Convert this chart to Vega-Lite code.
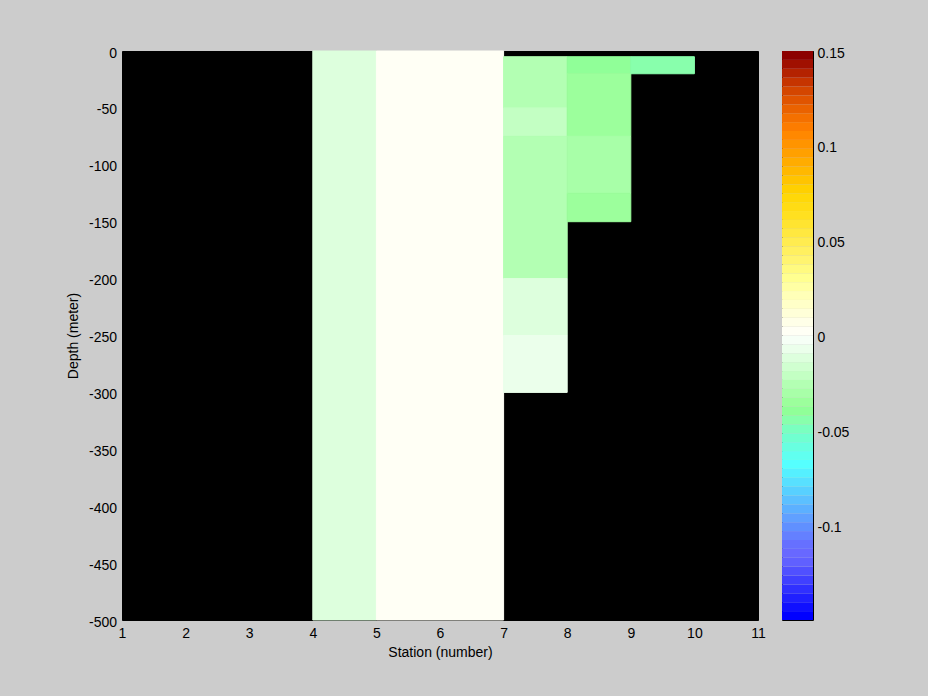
{
  "$schema": "https://vega.github.io/schema/vega-lite/v6.json",
  "background": "#cccccc",
  "padding": {"left": 65, "top": 45, "right": 89, "bottom": 38},
  "config": {
    "font": "Liberation Sans",
    "axis": {"labelFont": "Liberation Sans", "titleFont": "Liberation Sans", "labelFontSize": 14, "titleFontSize": 14, "titleFontWeight": "normal", "labelColor": "black", "titleColor": "black", "grid": false},
    "concat": {"spacing": 15}
  },
  "datasets": {
    "cells": [
      {"s0": 4, "s1": 5, "d0": 0, "d1": -500, "v": -0.012},
      {"s0": 5, "s1": 6, "d0": 0, "d1": -500, "v": 0.002},
      {"s0": 6, "s1": 7, "d0": 0, "d1": -500, "v": 0.002},
      {"s0": 7, "s1": 8, "d0": -5, "d1": -50, "v": -0.026},
      {"s0": 7, "s1": 8, "d0": -50, "d1": -75, "v": -0.021},
      {"s0": 7, "s1": 8, "d0": -75, "d1": -200, "v": -0.026},
      {"s0": 7, "s1": 8, "d0": -200, "d1": -250, "v": -0.012},
      {"s0": 7, "s1": 8, "d0": -250, "d1": -300, "v": -0.007},
      {"s0": 8, "s1": 9, "d0": -5, "d1": -20, "v": -0.040},
      {"s0": 8, "s1": 9, "d0": -20, "d1": -75, "v": -0.035},
      {"s0": 8, "s1": 9, "d0": -75, "d1": -125, "v": -0.030},
      {"s0": 8, "s1": 9, "d0": -125, "d1": -150, "v": -0.035},
      {"s0": 9, "s1": 10, "d0": -5, "d1": -20, "v": -0.045}
    ],
    "cbar": [
      {"lo": -0.15, "hi": -0.1453125},
      {"lo": -0.1453125, "hi": -0.140625},
      {"lo": -0.140625, "hi": -0.1359375},
      {"lo": -0.1359375, "hi": -0.13125},
      {"lo": -0.13125, "hi": -0.1265625},
      {"lo": -0.1265625, "hi": -0.121875},
      {"lo": -0.121875, "hi": -0.1171875},
      {"lo": -0.1171875, "hi": -0.1125},
      {"lo": -0.1125, "hi": -0.1078125},
      {"lo": -0.1078125, "hi": -0.103125},
      {"lo": -0.103125, "hi": -0.0984375},
      {"lo": -0.0984375, "hi": -0.09375},
      {"lo": -0.09375, "hi": -0.0890625},
      {"lo": -0.0890625, "hi": -0.084375},
      {"lo": -0.084375, "hi": -0.0796875},
      {"lo": -0.0796875, "hi": -0.075},
      {"lo": -0.075, "hi": -0.0703125},
      {"lo": -0.0703125, "hi": -0.065625},
      {"lo": -0.065625, "hi": -0.0609375},
      {"lo": -0.0609375, "hi": -0.05625},
      {"lo": -0.05625, "hi": -0.0515625},
      {"lo": -0.0515625, "hi": -0.046875},
      {"lo": -0.046875, "hi": -0.0421875},
      {"lo": -0.0421875, "hi": -0.0375},
      {"lo": -0.0375, "hi": -0.0328125},
      {"lo": -0.0328125, "hi": -0.028125},
      {"lo": -0.028125, "hi": -0.0234375},
      {"lo": -0.0234375, "hi": -0.01875},
      {"lo": -0.01875, "hi": -0.0140625},
      {"lo": -0.0140625, "hi": -0.009375},
      {"lo": -0.009375, "hi": -0.0046875},
      {"lo": -0.0046875, "hi": 0},
      {"lo": 0, "hi": 0.0046875},
      {"lo": 0.0046875, "hi": 0.009375},
      {"lo": 0.009375, "hi": 0.0140625},
      {"lo": 0.0140625, "hi": 0.01875},
      {"lo": 0.01875, "hi": 0.0234375},
      {"lo": 0.0234375, "hi": 0.028125},
      {"lo": 0.028125, "hi": 0.0328125},
      {"lo": 0.0328125, "hi": 0.0375},
      {"lo": 0.0375, "hi": 0.0421875},
      {"lo": 0.0421875, "hi": 0.046875},
      {"lo": 0.046875, "hi": 0.0515625},
      {"lo": 0.0515625, "hi": 0.05625},
      {"lo": 0.05625, "hi": 0.0609375},
      {"lo": 0.0609375, "hi": 0.065625},
      {"lo": 0.065625, "hi": 0.0703125},
      {"lo": 0.0703125, "hi": 0.075},
      {"lo": 0.075, "hi": 0.0796875},
      {"lo": 0.0796875, "hi": 0.084375},
      {"lo": 0.084375, "hi": 0.0890625},
      {"lo": 0.0890625, "hi": 0.09375},
      {"lo": 0.09375, "hi": 0.0984375},
      {"lo": 0.0984375, "hi": 0.103125},
      {"lo": 0.103125, "hi": 0.1078125},
      {"lo": 0.1078125, "hi": 0.1125},
      {"lo": 0.1125, "hi": 0.1171875},
      {"lo": 0.1171875, "hi": 0.121875},
      {"lo": 0.121875, "hi": 0.1265625},
      {"lo": 0.1265625, "hi": 0.13125},
      {"lo": 0.13125, "hi": 0.1359375},
      {"lo": 0.1359375, "hi": 0.140625},
      {"lo": 0.140625, "hi": 0.1453125},
      {"lo": 0.1453125, "hi": 0.15}
    ]
  },
  "hconcat": [
    {
      "width": 636,
      "height": 569,
      "view": {"fill": "black", "stroke": "black"},
      "data": {"name": "cells"},
      "mark": {"type": "rect", "strokeWidth": 1},
      "encoding": {
        "x": {"field": "s0", "type": "quantitative",
          "scale": {"domain": [1, 11], "nice": false, "zero": false},
          "axis": {"values": [1, 2, 3, 4, 5, 6, 7, 8, 9, 10, 11], "ticks": false, "tickSize": 0, "domain": false, "labelPadding": 17.5, "labelBaseline": "alphabetic", "labelFlush": false, "labelOverlap": false, "labelExpr": "'' + datum.value", "title": "Station (number)", "titleBaseline": "alphabetic", "titleY": 36}},
        "x2": {"field": "s1"},
        "y": {"field": "d1", "type": "quantitative",
          "scale": {"domain": [-500, 0], "nice": false, "zero": false},
          "axis": {"values": [0, -50, -100, -150, -200, -250, -300, -350, -400, -450, -500], "ticks": false, "tickSize": 0, "domain": false, "labelPadding": 5.5, "labelBaseline": "alphabetic", "labelOffset": 6, "labelOverlap": false, "labelExpr": "'' + datum.value", "title": "Depth (meter)", "titleBaseline": "alphabetic", "titleX": -45}},
        "y2": {"field": "d0"},
        "color": {"field": "v", "type": "quantitative",
          "scale": {"type": "threshold",
            "domain": [-0.1453125, -0.140625, -0.1359375, -0.13125, -0.1265625, -0.121875, -0.1171875, -0.1125, -0.1078125, -0.103125, -0.0984375, -0.09375, -0.0890625, -0.084375, -0.0796875, -0.075, -0.0703125, -0.065625, -0.0609375, -0.05625, -0.0515625, -0.046875, -0.0421875, -0.0375, -0.0328125, -0.028125, -0.0234375, -0.01875, -0.0140625, -0.009375, -0.0046875, 0, 0.0046875, 0.009375, 0.0140625, 0.01875, 0.0234375, 0.028125, 0.0328125, 0.0375, 0.0421875, 0.046875, 0.0515625, 0.05625, 0.0609375, 0.065625, 0.0703125, 0.075, 0.0796875, 0.084375, 0.0890625, 0.09375, 0.0984375, 0.103125, 0.1078125, 0.1125, 0.1171875, 0.121875, 0.1265625, 0.13125, 0.1359375, 0.140625, 0.1453125],
            "range": ["#0000ff", "#1010ff", "#2020ff", "#3030ff", "#4040ff", "#5050ff", "#6060ff", "#6868ff", "#6670ff", "#6480ff", "#6090ff", "#60a0ff", "#5cb0ff", "#5cc0ff", "#58d0ff", "#58e0ff", "#55f0ff", "#55ffff", "#60fff0", "#68ffe0", "#70ffd0", "#7affc0", "#88ffac", "#90ff98", "#9cff9c", "#a8ffa8", "#b3ffb3", "#c3ffc3", "#d0ffd0", "#ddffdd", "#ebffeb", "#f6fff6", "#fffff5", "#ffffe8", "#ffffd8", "#ffffc8", "#ffffb8", "#ffffa4", "#ffff90", "#fffa80", "#fff470", "#fff060", "#ffec50", "#ffe840", "#ffe430", "#ffe020", "#ffdc14", "#ffd808", "#ffd000", "#ffc400", "#ffb800", "#ffac00", "#ffa000", "#ff9400", "#ff8800", "#fc7c00", "#f47000", "#ea6200", "#e05400", "#d44600", "#c63400", "#b42200", "#a01000", "#8c0000"]},
          "legend": null},
        "stroke": {"field": "v", "type": "quantitative",
          "scale": {"type": "threshold",
            "domain": [-0.1453125, -0.140625, -0.1359375, -0.13125, -0.1265625, -0.121875, -0.1171875, -0.1125, -0.1078125, -0.103125, -0.0984375, -0.09375, -0.0890625, -0.084375, -0.0796875, -0.075, -0.0703125, -0.065625, -0.0609375, -0.05625, -0.0515625, -0.046875, -0.0421875, -0.0375, -0.0328125, -0.028125, -0.0234375, -0.01875, -0.0140625, -0.009375, -0.0046875, 0, 0.0046875, 0.009375, 0.0140625, 0.01875, 0.0234375, 0.028125, 0.0328125, 0.0375, 0.0421875, 0.046875, 0.0515625, 0.05625, 0.0609375, 0.065625, 0.0703125, 0.075, 0.0796875, 0.084375, 0.0890625, 0.09375, 0.0984375, 0.103125, 0.1078125, 0.1125, 0.1171875, 0.121875, 0.1265625, 0.13125, 0.1359375, 0.140625, 0.1453125],
            "range": ["#0000ff", "#1010ff", "#2020ff", "#3030ff", "#4040ff", "#5050ff", "#6060ff", "#6868ff", "#6670ff", "#6480ff", "#6090ff", "#60a0ff", "#5cb0ff", "#5cc0ff", "#58d0ff", "#58e0ff", "#55f0ff", "#55ffff", "#60fff0", "#68ffe0", "#70ffd0", "#7affc0", "#88ffac", "#90ff98", "#9cff9c", "#a8ffa8", "#b3ffb3", "#c3ffc3", "#d0ffd0", "#ddffdd", "#ebffeb", "#f6fff6", "#fffff5", "#ffffe8", "#ffffd8", "#ffffc8", "#ffffb8", "#ffffa4", "#ffff90", "#fffa80", "#fff470", "#fff060", "#ffec50", "#ffe840", "#ffe430", "#ffe020", "#ffdc14", "#ffd808", "#ffd000", "#ffc400", "#ffb800", "#ffac00", "#ffa000", "#ff9400", "#ff8800", "#fc7c00", "#f47000", "#ea6200", "#e05400", "#d44600", "#c63400", "#b42200", "#a01000", "#8c0000"]},
          "legend": null}
      }
    },
    {
      "width": 31,
      "height": 569,
      "view": {"stroke": "black", "strokeWidth": 1},
      "data": {"name": "cbar"},
      "layer": [
        {
          "mark": {"type": "rect"},
          "encoding": {
            "x": {"datum": 0, "type": "quantitative", "scale": {"domain": [0, 1], "nice": false, "zero": false}, "axis": null},
            "x2": {"datum": 1},
            "y": {"field": "lo", "type": "quantitative",
              "scale": {"domain": [-0.15, 0.15], "nice": false, "zero": false},
              "axis": {"orient": "right", "values": [0.15, 0.1, 0.05, 0, -0.05, -0.1], "tickSize": -5, "tickColor": "black", "domain": false, "labelPadding": 9, "labelBaseline": "alphabetic", "labelOffset": 6, "labelOverlap": false, "labelExpr": "'' + datum.value", "title": null}},
            "y2": {"field": "hi"},
            "color": {"field": "lo", "type": "quantitative",
              "scale": {"type": "threshold",
                "domain": [-0.1453125, -0.140625, -0.1359375, -0.13125, -0.1265625, -0.121875, -0.1171875, -0.1125, -0.1078125, -0.103125, -0.0984375, -0.09375, -0.0890625, -0.084375, -0.0796875, -0.075, -0.0703125, -0.065625, -0.0609375, -0.05625, -0.0515625, -0.046875, -0.0421875, -0.0375, -0.0328125, -0.028125, -0.0234375, -0.01875, -0.0140625, -0.009375, -0.0046875, 0, 0.0046875, 0.009375, 0.0140625, 0.01875, 0.0234375, 0.028125, 0.0328125, 0.0375, 0.0421875, 0.046875, 0.0515625, 0.05625, 0.0609375, 0.065625, 0.0703125, 0.075, 0.0796875, 0.084375, 0.0890625, 0.09375, 0.0984375, 0.103125, 0.1078125, 0.1125, 0.1171875, 0.121875, 0.1265625, 0.13125, 0.1359375, 0.140625, 0.1453125],
                "range": ["#0000ff", "#1010ff", "#2020ff", "#3030ff", "#4040ff", "#5050ff", "#6060ff", "#6868ff", "#6670ff", "#6480ff", "#6090ff", "#60a0ff", "#5cb0ff", "#5cc0ff", "#58d0ff", "#58e0ff", "#55f0ff", "#55ffff", "#60fff0", "#68ffe0", "#70ffd0", "#7affc0", "#88ffac", "#90ff98", "#9cff9c", "#a8ffa8", "#b3ffb3", "#c3ffc3", "#d0ffd0", "#ddffdd", "#ebffeb", "#f6fff6", "#fffff5", "#ffffe8", "#ffffd8", "#ffffc8", "#ffffb8", "#ffffa4", "#ffff90", "#fffa80", "#fff470", "#fff060", "#ffec50", "#ffe840", "#ffe430", "#ffe020", "#ffdc14", "#ffd808", "#ffd000", "#ffc400", "#ffb800", "#ffac00", "#ffa000", "#ff9400", "#ff8800", "#fc7c00", "#f47000", "#ea6200", "#e05400", "#d44600", "#c63400", "#b42200", "#a01000", "#8c0000"]},
              "legend": null}
          }
        },
        {
          "mark": {"type": "rect", "opacity": 0},
          "encoding": {
            "x": {"datum": 0, "type": "quantitative", "axis": null},
            "x2": {"datum": 1},
            "y": {"field": "lo", "type": "quantitative",
              "axis": {"orient": "left", "values": [0.15, 0.1, 0.05, 0, -0.05, -0.1], "tickSize": -5, "tickColor": "black", "domain": false, "labels": false, "title": null}},
            "y2": {"field": "hi"}
          }
        }
      ],
      "resolve": {"axis": {"y": "independent"}}
    }
  ]
}
